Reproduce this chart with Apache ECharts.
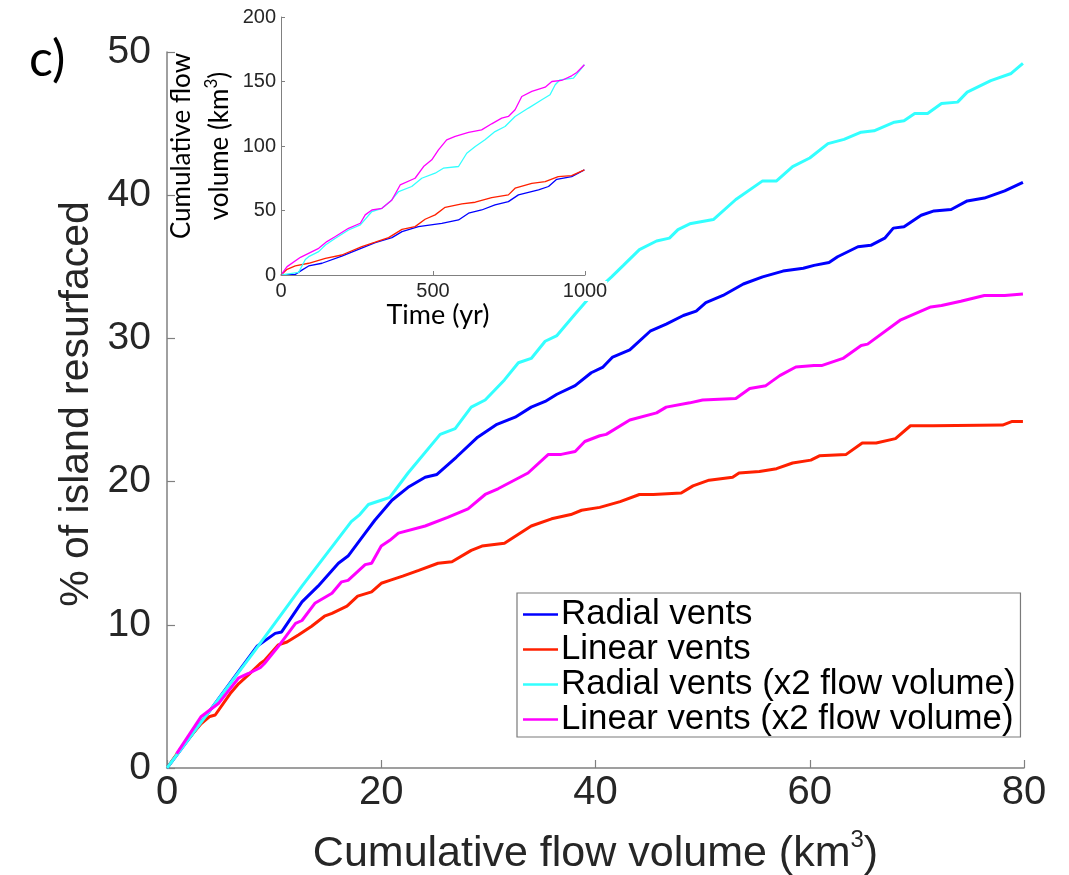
<!DOCTYPE html>
<html>
<head>
<meta charset="utf-8">
<script src="https://cdn.jsdelivr.net/npm/echarts@6/dist/echarts.min.js"></script>
<style>
html,body{margin:0;padding:0;background:#fff;}
#chart{width:1069px;height:875px;}
</style>
</head>
<body>
<div id="chart"></div>
<script>
// ---- main plot data: [cumulative flow volume (km3), % of island resurfaced]
const seriesNames = ['Radial vents', 'Linear vents', 'Radial vents (x2 flow volume)', 'Linear vents (x2 flow volume)'];
const xTicks = [0, 20, 40, 60, 80];
const yTicks = [0, 10, 20, 30, 40, 50];

const radialVents = [[0,0],[4,4.0],[8.4,8.5],[10.1,9.4],[10.7,9.5],[12.6,11.6],[14.1,12.7],[16.0,14.3],[16.9,14.8],[18.5,16.4],[19.4,17.3],[21.0,18.7],[22.5,19.6],[24.1,20.3],[25.2,20.5],[27.0,21.7],[29.0,23.1],[30.8,24.0],[32.5,24.5],[34.0,25.2],[35.3,25.6],[36.4,26.1],[38.1,26.7],[39.6,27.6],[40.7,28.0],[41.6,28.7],[43.2,29.2],[45.1,30.5],[46.6,31.0],[48.2,31.6],[49.4,31.9],[50.3,32.5],[51.9,33.0],[53.8,33.8],[55.6,34.3],[57.5,34.7],[59.4,34.9],[60.4,35.1],[61.8,35.3],[62.6,35.7],[64.5,36.4],[65.7,36.5],[67.0,37.0],[67.8,37.7],[68.8,37.8],[70.4,38.6],[71.6,38.9],[73.2,39.0],[74.7,39.6],[76.3,39.8],[78.2,40.3],[79.9,40.9]];

const linearVents = [[0,0],[1.5,1.6],[3.2,3.1],[4.0,3.6],[4.5,3.7],[5.9,5.2],[6.7,5.9],[7.6,6.5],[8.7,7.3],[9.1,7.5],[10.4,8.6],[11.2,8.8],[12.3,9.3],[13.5,9.9],[14.7,10.6],[15.4,10.8],[16.8,11.3],[17.8,12.0],[19.1,12.3],[20.0,12.9],[20.8,13.1],[22.0,13.4],[23.5,13.8],[25.3,14.3],[26.6,14.4],[28.4,15.2],[29.4,15.5],[31.5,15.7],[34.0,16.9],[35.9,17.4],[37.7,17.7],[38.7,18.0],[40.4,18.2],[42.3,18.6],[44.1,19.1],[45.4,19.1],[48.0,19.2],[49.1,19.7],[50.6,20.1],[52.8,20.3],[53.4,20.6],[55.3,20.7],[56.9,20.9],[58.4,21.3],[60.1,21.5],[60.9,21.8],[63.4,21.9],[64.9,22.7],[66.2,22.7],[68.0,23.0],[69.4,23.9],[71.5,23.9],[78.0,23.95],[78.9,24.2],[79.9,24.2]];

const radialVentsX2 = [[0,0],[4,4.0],[8.2,8.2],[12.6,12.7],[17.2,17.2],[18.0,17.7],[18.8,18.4],[20.0,18.7],[20.8,18.9],[22.5,20.6],[25.5,23.3],[26.9,23.7],[28.4,25.2],[29.7,25.7],[31.5,27.1],[32.8,28.3],[34.0,28.6],[35.3,29.8],[36.4,30.2],[38.1,31.7],[39.6,33.0],[41.5,34.3],[42.6,35.1],[44.1,36.2],[45.7,36.8],[46.9,37.0],[47.7,37.6],[48.8,38.0],[51.0,38.3],[53.1,39.7],[55.6,41.0],[56.9,41.0],[58.4,42.0],[60.0,42.6],[61.7,43.6],[63.2,43.9],[64.8,44.4],[66.0,44.5],[67.9,45.1],[68.8,45.2],[69.8,45.7],[71.0,45.7],[72.3,46.4],[73.8,46.5],[74.7,47.2],[76.9,48.0],[78.8,48.5],[79.9,49.2]];

const linearVentsX2 = [[0.9,1.0],[3.2,3.6],[4.8,4.5],[6.7,6.3],[7.6,6.6],[8.7,7.0],[9.1,7.3],[10.4,8.5],[12.0,10.1],[12.6,10.3],[13.8,11.5],[15.4,12.2],[16.3,13.0],[16.9,13.1],[18.5,14.2],[19.1,14.3],[20.0,15.5],[20.8,15.9],[21.6,16.4],[24.1,16.9],[26.2,17.5],[28.1,18.1],[29.7,19.1],[30.9,19.5],[33.7,20.6],[35.6,21.9],[36.8,21.9],[38.1,22.1],[39.0,22.8],[40.4,23.2],[41.0,23.3],[43.2,24.3],[45.7,24.8],[46.6,25.2],[48.8,25.5],[50.0,25.7],[53.1,25.8],[54.4,26.5],[55.9,26.7],[57.2,27.4],[58.7,28.0],[60.4,28.1],[61.1,28.1],[63.1,28.6],[64.8,29.5],[65.4,29.6],[68.5,31.3],[71.3,32.2],[72.3,32.3],[74.1,32.6],[76.3,33.0],[78.2,33.0],[79.9,33.1]];

// ---- inset data: [time (yr), cumulative flow volume (km3)]
const insetXTicks = [0, 500, 1000];
const insetYTicks = [0, 50, 100, 150, 200];

const insetRadial = [[0,0],[47,0.5],[70,4],[91,7.0],[135,9.1],[200,14.7],[255,19.9],[310,25.1],[365,29.0],[398,33.6],[452,37.5],[529,40.1],[584,42.7],[617,47.9],[660,50.4],[704,54.3],[748,56.9],[781,62.1],[847,66.0],[880,68.6],[907,74.2],[956,76.3],[998,81.5]];
const insetLinear = [[0,0],[3,0],[20,4.4],[47,7.0],[91,9.1],[146,12.9],[200,15.5],[266,22.0],[310,25.4],[354,29.0],[398,35.4],[441,37.5],[474,43.2],[507,46.6],[540,52.5],[595,55.1],[639,56.4],[693,60.0],[748,62.1],[770,67.3],[825,71.1],[869,72.4],[912,76.3],[956,77.1],[998,81.5]];
const insetRadialX2 = [[0,0],[36,1.3],[58,2],[80,12],[91,14.2],[124,18.1],[146,23.3],[179,28.5],[222,34.9],[261,38.8],[299,49.2],[332,51.7],[359,56.9],[387,64.7],[430,68.6],[463,75.0],[507,78.9],[534,82.8],[584,84.1],[611,94.4],[639,99.6],[671,104.8],[704,111.2],[737,115.1],[770,122.9],[814,129.4],[858,135.8],[885,139.7],[902,147.5],[918,151.3],[962,152.6],[998,163.0]];
const insetLinearX2 = [[0,0],[3,0],[20,6.5],[64,13.7],[124,20.7],[151,25.9],[179,29.8],[222,36.2],[261,40.1],[277,46.6],[299,50.4],[332,51.7],[365,58.2],[392,69.8],[441,75.0],[469,84.1],[496,89.3],[518,97.0],[545,104.8],[573,107.4],[617,110.5],[660,112.5],[693,117.2],[726,121.6],[748,122.9],[770,128.1],[792,138.4],[825,142.3],[869,145.6],[891,150.0],[923,150.8],[956,154.4],[973,157.0],[998,163.0]];

const colors = ['#0000ff', '#ff2000', '#33ffff', '#ff00ff'];

const chart = echarts.init(document.getElementById('chart'), null, {renderer: 'canvas'});

const axisGray = '#808080';
const mainFont = 'Liberation Sans';
const calFont = 'Lato';

function mainSeries(name, data, i) {
  return {
    name: name, type: 'line', data: data, xAxisIndex: 0, yAxisIndex: 0,
    showSymbol: false, symbol: 'none', smooth: false, z: 3 + i,
    lineStyle: {color: colors[i], width: 3}, itemStyle: {color: colors[i]}
  };
}
function insetSeries(name, data, i) {
  return {
    name: name, type: 'line', data: data, xAxisIndex: 1, yAxisIndex: 1,
    showSymbol: false, symbol: 'none', z: 3 + i,
    lineStyle: {color: colors[i], width: 1.3}, itemStyle: {color: colors[i]}
  };
}

const option = {
  backgroundColor: '#fff',
  animation: false,
  title: {
    text: 'c)', left: 24, top: 30,
    textStyle: {fontFamily: calFont, fontSize: 50, fontWeight: 'normal', color: '#000'}
  },
  legend: {
    data: seriesNames,
    orient: 'vertical',
    left: 517, top: 593,
    icon: 'rect',
    itemWidth: 35, itemHeight: 2.5, itemGap: 0,
    padding: [4, 5, 0, 6],
    backgroundColor: '#fff',
    borderColor: '#7a7a7a', borderWidth: 1.2,
    textStyle: {fontFamily: mainFont, fontSize: 34.8, lineHeight: 34, color: '#000', padding: [0, 0, 0, -2]}
  },
  grid: [
    {left: 167, top: 52, width: 857, height: 716, outerBoundsMode: 'none', containLabel: false},
    {left: 281, top: 17, width: 304, height: 258, outerBoundsMode: 'none', containLabel: false}
  ],
  xAxis: [
    {
      type: 'value', gridIndex: 0, min: 0, max: 80, interval: 20,
      name: 'Cumulative flow volume (km{sup|3})',
      nameLocation: 'middle', nameGap: 60,
      nameTextStyle: {fontFamily: mainFont, fontSize: 43, color: '#262626',
        rich: {sup: {fontFamily: mainFont, fontSize: 24, color: '#262626', padding: [0, 0, 28, 0]}}},
      axisLine: {show: true, lineStyle: {color: axisGray, width: 1.5}},
      axisTick: {show: true, inside: true, length: 8, lineStyle: {color: axisGray, width: 1.2}},
      axisLabel: {fontFamily: mainFont, fontSize: 40, color: '#262626', margin: 5},
      splitLine: {show: false}
    },
    {
      type: 'value', gridIndex: 1, min: 0, max: 1000, interval: 500,
      name: 'Time (yr)', nameLocation: 'middle', nameGap: 24,
      nameTextStyle: {fontFamily: calFont, fontSize: 27, color: '#000', padding: [0, 0, 0, 10]},
      axisLine: {show: true, lineStyle: {color: axisGray, width: 1}},
      axisTick: {show: true, inside: true, length: 4, lineStyle: {color: axisGray, width: 1}},
      axisLabel: {fontFamily: mainFont, fontSize: 20, color: '#262626', margin: 6,
        backgroundColor: '#fff', formatter: function (v) { return String(v); }},
      splitLine: {show: false},
      z: 20
    }
  ],
  yAxis: [
    {
      type: 'value', gridIndex: 0, min: 0, max: 50, interval: 10,
      name: '% of island resurfaced',
      nameLocation: 'middle', nameGap: 70,
      nameTextStyle: {fontFamily: mainFont, fontSize: 41, color: '#262626', padding: [0, 0, 0, 12]},
      axisLine: {show: true, lineStyle: {color: axisGray, width: 1.5}},
      axisTick: {show: true, inside: true, length: 8, lineStyle: {color: axisGray, width: 1.2}},
      axisLabel: {fontFamily: mainFont, fontSize: 39, color: '#262626', margin: 16},
      splitLine: {show: false}
    },
    {
      type: 'value', gridIndex: 1, min: 0, max: 200, interval: 50,
      name: 'Cumulative flow\nvolume (km{sup|3})',
      nameLocation: 'middle', nameGap: 40,
      nameTextStyle: {fontFamily: calFont, fontSize: 26, color: '#000', lineHeight: 38,
        rich: {sup: {fontFamily: calFont, fontSize: 17, color: '#000', lineHeight: 38, padding: [0, 0, 16, 0]}}},
      axisLine: {show: true, lineStyle: {color: axisGray, width: 1}},
      axisTick: {show: true, inside: true, length: 4, lineStyle: {color: axisGray, width: 1}},
      axisLabel: {fontFamily: mainFont, fontSize: 20, color: '#262626', margin: 5},
      splitLine: {show: false}
    }
  ],
  series: [
    mainSeries(seriesNames[0], radialVents, 0),
    mainSeries(seriesNames[1], linearVents, 1),
    mainSeries(seriesNames[2], radialVentsX2, 2),
    mainSeries(seriesNames[3], linearVentsX2, 3),
    insetSeries('inset ' + seriesNames[0], insetRadial, 0),
    insetSeries('inset ' + seriesNames[1], insetLinear, 1),
    insetSeries('inset ' + seriesNames[2], insetRadialX2, 2),
    insetSeries('inset ' + seriesNames[3], insetLinearX2, 3)
  ]
};
chart.setOption(option);
</script>
</body>
</html>
